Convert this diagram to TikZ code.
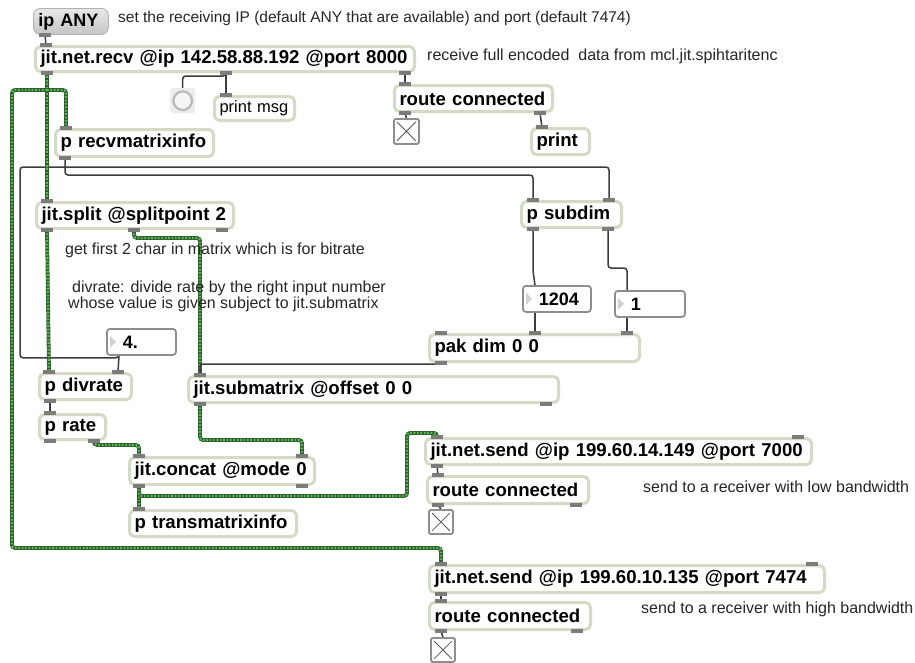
\documentclass[tikz,border=0pt]{standalone}
\usepackage{fontspec}
\setmainfont{Liberation Sans}
\usetikzlibrary{calc}

\definecolor{objedge}{HTML}{D3DBC6}
\definecolor{portgray}{HTML}{7C7C7C}
\definecolor{cordgray}{HTML}{3C3C3C}
\definecolor{jitdark}{HTML}{2E5E2A}
\definecolor{jitlight}{HTML}{5DBB5A}
\definecolor{numedge}{HTML}{8E8E8E}
\definecolor{commentc}{HTML}{262626}

\pgfdeclarelayer{paper}
\pgfdeclarelayer{cords}
\pgfsetlayers{paper,cords,main}

\tikzset{
  obj/.style={draw=objedge, line width=3pt, rounded corners=5pt, fill=white,
    anchor=north west, inner xsep=5pt, inner ysep=0pt, align=left,
    font=\fontsize{18.6}{20}\selectfont\bfseries},
  plainobj/.style={obj, font=\fontsize{16.5}{18}\selectfont},
  numb/.style={draw=numedge, line width=1.8pt, rounded corners=3pt, fill=white,
    anchor=north west, inner xsep=5pt, inner ysep=0pt, align=left,
    font=\fontsize{18}{20}\selectfont\bfseries},
  msgbox/.style={draw=gray!60, line width=0.8pt, rounded corners=7pt,
    top color=gray!18, bottom color=gray!45, anchor=north west,
    inner xsep=5pt, inner ysep=0pt, align=left,
    font=\fontsize{18}{20}\selectfont\bfseries},
  togglebox/.style={draw=numedge, line width=1.8pt, rounded corners=1.5pt,
    fill=white, anchor=north west, inner sep=0pt},
  bangbox/.style={fill=gray!15, rounded corners=3pt, anchor=north west, inner sep=0pt},
  comment/.style={anchor=west, inner sep=0pt, text=commentc,
    font=\fontsize{16}{18}\selectfont},
  bcord/.style={draw=cordgray, line width=1.5pt, rounded corners=3pt},
  gcord/.style={draw=jitdark, line width=3.8pt, rounded corners=3pt,
    postaction={draw=jitlight, line width=2.4pt, dash pattern=on 1.7pt off 1.7pt}},
  porttab/.style={fill=portgray}
}

% object box: [style] name, x, y, width, height, text
\newcommand\maxobj[7][obj]{%
  \pgfmathsetmacro\mtw{#5-10}%
  \node[#1, minimum width=#5pt, minimum height=#6pt, text width=\mtw pt] (#2) at (#3,#4) {\mbox{#7}};}
% number box: name, x, y, width, height, value
\newcommand\numbox[6]{%
  \pgfmathsetmacro\mtw{#4-10}%
  \node[numb, minimum width=#4pt, minimum height=#5pt, text width=\mtw pt] (#1) at (#2,#3) {\mbox{\hspace*{11pt}#6}};
  \fill[gray!35] ($(#1.west)+(4,-6)$) -- ($(#1.west)+(10,0)$) -- ($(#1.west)+(4,6)$) -- cycle;
  \coordinate (#1-i) at ($(#1.north west)+(13,0)$);
  \coordinate (#1-o) at ($(#1.south west)+(13,0)$);}
% toggle: name, x, y, size
\newcommand\maxtoggle[4]{%
  \node[togglebox, minimum width=#4pt, minimum height=#4pt] (#1) at (#2,#3) {};
  \draw[gray!70!black, line width=0.8pt] ($(#1.north west)+(4,4)$) -- ($(#1.south east)+(-4,-4)$)
    ($(#1.north east)+(-4,4)$) -- ($(#1.south west)+(4,-4)$);}
% inlet and outlet tabs
\newcommand\inlets[2]{%
  \foreach \d [count=\k] in {#2}{%
    \coordinate (#1-i\k) at ($(#1.north west)+(\d,0)$);
    \fill[porttab] ($(#1-i\k)+(-6,-1.8)$) rectangle ($(#1-i\k)+(6,1.8)$);}}
\newcommand\outlets[2]{%
  \foreach \d [count=\k] in {#2}{%
    \coordinate (#1-o\k) at ($(#1.south west)+(\d,0)$);
    \fill[porttab] ($(#1-o\k)+(-6,-1.8)$) rectangle ($(#1-o\k)+(6,1.8)$);}}

\begin{document}
\begin{tikzpicture}[x=1pt, y=-1pt]
\begin{pgfonlayer}{paper}
  \fill[white] (0,0) rectangle (915,662);
\end{pgfonlayer}
\useasboundingbox (0,0) rectangle (915,662);

% ---- receiving side
\maxobj[msgbox]{ipany}{33}{8}{75}{26}{ip ANY}
\outlets{ipany}{12}
\node[comment, font=\fontsize{15.5}{18}\selectfont] (c1) at (118,18) {set the receiving IP (default ANY that are available) and port (default 7474)};

\maxobj{recv}{34}{45}{379}{25}{jit.net.recv @ip 142.58.88.192 @port 8000}
\inlets{recv}{12}
\outlets{recv}{13,192,371}
\node[comment] (c2) at (427,56) {receive full encoded\ \ data from mcl.jit.spihtaritenc};

\node[bangbox, minimum width=25pt, minimum height=25pt] (bang) at (170,88) {};
\draw[gray!55, fill=gray!8, line width=2.2pt] (bang.center) circle (9.3);

\maxobj[plainobj]{printmsg}{213}{95}{80}{24}{print msg}
\inlets{printmsg}{13}

\maxobj{route1}{393}{84}{158}{26}{route connected}
\inlets{route1}{12}
\outlets{route1}{12,147}
\maxtoggle{tog1}{393}{118}{25}
\maxobj{print}{530}{127}{58}{26}{print}
\inlets{print}{12}

\maxobj{recvinfo}{54}{128}{158}{27}{p recvmatrixinfo}
\inlets{recvinfo}{12}
\outlets{recvinfo}{11}

% ---- splitting and sub-matrix
\maxobj{split}{35}{201}{197}{26}{jit.split @splitpoint 2}
\inlets{split}{12}
\outlets{split}{12,99,187}
\node[comment] (c3) at (65,250) {get first 2 char in matrix which is for bitrate};
\node[comment] (c4) at (72,288) {divrate: divide rate by the right input number};
\node[comment] (c5) at (68,304) {whose value is given subject to jit.submatrix};

\maxobj{subdim}{520}{200}{100}{26}{p subdim}
\inlets{subdim}{13,89}
\outlets{subdim}{13,88}

\numbox{n1204}{522}{285}{68}{26}{1204}
\numbox{none}{614}{290}{70}{26}{1}
\numbox{nfour}{106}{328}{69}{26}{4.}

\maxobj{pak}{428}{333}{210}{27}{pak dim 0 0}
\inlets{pak}{13,107,199}
\outlets{pak}{13}

\maxobj{divrate}{38}{372}{92}{26}{p divrate}
\inlets{divrate}{11,80}
\outlets{divrate}{12}

\maxobj{submatrix}{187}{375}{370}{26}{jit.submatrix @offset 0 0}
\inlets{submatrix}{13}
\outlets{submatrix}{13,359}

\maxobj{rate}{38}{413}{66}{25}{p rate}
\inlets{rate}{12}
\outlets{rate}{12,56}

\maxobj{concat}{128}{456}{185}{27}{jit.concat @mode 0}
\inlets{concat}{11,174}
\outlets{concat}{11,174}

\maxobj{transinfo}{128}{509}{167}{26}{p transmatrixinfo}
\inlets{transinfo}{11}

% ---- sending side
\maxobj{send1}{424}{437}{386}{26}{jit.net.send @ip 199.60.14.149 @port 7000}
\inlets{send1}{13,374}
\outlets{send1}{13}
\maxobj{route2}{426}{475}{161}{27}{route connected}
\inlets{route2}{12}
\outlets{route2}{12,150}
\maxtoggle{tog2}{428}{509}{24}
\node[comment] (c6) at (643,487) {send to a receiver with low bandwidth};

\maxobj{send2}{428}{564}{395}{27}{jit.net.send @ip 199.60.10.135 @port 7474}
\inlets{send2}{13,384}
\outlets{send2}{13}
\maxobj{route3}{428}{601}{161}{27}{route connected}
\inlets{route3}{13}
\outlets{route3}{13,149}
\maxtoggle{tog3}{430}{637}{24}
\node[comment] (c7) at (641,609) {send to a receiver with high bandwidth};

% ---- patch cords
\coordinate (gfork) at ($(recv-o1)+(0,17)$);
\coordinate (loopcorner) at (20,167);
\coordinate (sendjog) at ($(send1-i1)+(-30,-4)$);

\begin{pgfonlayer}{cords}
  % control cords
  \draw[bcord] (ipany-o1) -- (recv-i1);
  \draw[bcord] (recv-o2) -- ++(0,3) -| (bang.north);
  \draw[bcord] (recv-o2) -- (printmsg-i1);
  \draw[bcord] (recv-o3) -- (route1-i1);
  \draw[bcord] (route1-o1) -- (tog1.north);
  \draw[bcord] (route1-o2) -- (print-i1);
  \draw[bcord] (recvinfo-o1) |- ($(subdim-i1)+(0,-25)$) -- (subdim-i1);
  \draw[bcord] (nfour-o) -- (divrate-i2);
  \draw[bcord] (nfour-o) -- ++(0,2) -| (loopcorner) -| (subdim-i2);
  \draw[bcord] (subdim-o1) -- ++(0,42) -- (n1204-i);
  \draw[bcord] (n1204-o) -- (pak-i2);
  \draw[bcord] (subdim-o2) |- ($(none-i)+(0,-22)$) -- (none-i);
  \draw[bcord] (none-o) -- (pak-i3);
  \draw[bcord] (divrate-o1) -- (rate-i1);
  \draw[bcord] (send1-o1) -- (route2-i1);
  \draw[bcord] (route2-o1) -- (tog2.north);
  \draw[bcord] (send2-o1) -- (route3-i1);
  \draw[bcord] (route3-o1) -- (tog3.north);
  % matrix cords
  \draw[gcord] (recv-o1) -- (split-i1);
  \draw[gcord] (gfork) -| (recvinfo-i1);
  \draw[gcord] (gfork) -- ++(-35,0) |- ($(send2-i1)+(0,-16)$) -- (send2-i1);
  \draw[gcord] (split-o1) -- (divrate-i1);
  \draw[gcord] (split-o2) -- ++(0,8) -| (submatrix-i1);
  \draw[gcord] (rate-o2) -- ++(0,4) -| (concat-i1);
  \draw[gcord] (submatrix-o1) -- ++(0,36) -| (concat-i2);
  \draw[gcord] (concat-o1) -- (transinfo-i1);
  \draw[gcord] (concat-o1) -- ++(0,10) -| (sendjog) -| (send1-i1);
  % pak output over the matrix cord
  \draw[bcord] (pak-o1) -- ++(0,1) -| (submatrix-i1);
\end{pgfonlayer}
\end{tikzpicture}
\end{document}
